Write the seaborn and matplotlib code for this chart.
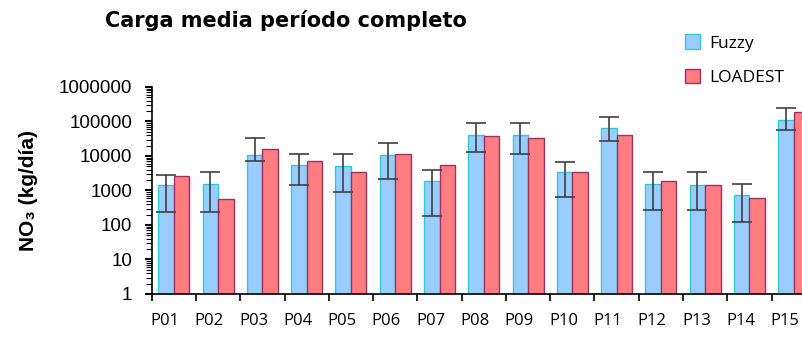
import numpy as np
import pandas as pd
import seaborn as sns
import matplotlib
matplotlib.use("Agg")
import matplotlib.pyplot as plt
from matplotlib.ticker import LogLocator, FuncFormatter, NullFormatter

# Mean NO3 load per station (kg/day), full period
stations = ["P01", "P02", "P03", "P04", "P05", "P06", "P07", "P08",
            "P09", "P10", "P11", "P12", "P13", "P14", "P15"]
fuzzy = [1450, 1550, 10500, 5600, 5100, 10500, 1900, 40600,
         40600, 3400, 65000, 1550, 1450, 730, 108000]
loadest = [2650, 570, 15600, 7300, 3400, 11200, 5600, 37300,
           34000, 3400, 40600, 1900, 1450, 600, 191000]
# Fuzzy error bar limits (lower / upper)
fuzzy_low = [233, 233, 7300, 1410, 920, 2200, 186, 13300,
             11200, 660, 26700, 277, 277, 120, 56800]
fuzzy_high = [2800, 3380, 33000, 11200, 11200, 24300, 4000, 90600,
              90600, 6700, 138000, 3370, 3370, 1540, 246000]

series = ["Fuzzy", "LOADEST"]
fills = {"Fuzzy": "#99CCFF", "LOADEST": "#FF7C80"}
edges = {"Fuzzy": "#33CCCC", "LOADEST": "#993366"}

df = pd.DataFrame({
    "station": stations * 2,
    "serie": ["Fuzzy"] * len(stations) + ["LOADEST"] * len(stations),
    "carga": fuzzy + loadest,
})

sns.set_theme(style="white")
plt.rcParams["font.family"] = ["Liberation Sans", "DejaVu Sans"]
plt.rcParams["text.color"] = "black"
plt.rcParams["axes.labelcolor"] = "black"
plt.rcParams["xtick.color"] = "black"
plt.rcParams["ytick.color"] = "black"

fig = plt.figure(figsize=(8.03, 3.43), dpi=100)
ax = fig.add_axes([0.189, 0.1429, 0.827, 0.6035])

sns.barplot(data=df, x="station", y="carga", hue="serie", order=stations,
            hue_order=series, palette=fills, width=0.7, errorbar=None,
            saturation=1, ax=ax, legend=False)
ax.set_yscale("log")

for cont, name in zip(ax.containers, series):
    for bar in cont:
        bar.set_edgecolor(edges[name])
        bar.set_linewidth(1.0)

# Error bars on the Fuzzy series
fz = ax.containers[0]
xs = [b.get_x() + b.get_width() / 2 for b in fz]
vals = np.array(fuzzy, dtype=float)
yerr = np.vstack([vals - np.array(fuzzy_low), np.array(fuzzy_high) - vals])
ax.errorbar(xs, vals, yerr=yerr, fmt="none", ecolor="#404040",
            elinewidth=1.2, capsize=7.5, capthick=1.2, zorder=5)

ax.set_xlim(-0.5, len(stations) - 0.5)
ax.set_ylim(1, 1e6)
ax.yaxis.set_major_locator(LogLocator(base=10, numticks=10))
ax.yaxis.set_minor_locator(LogLocator(base=10, subs=np.arange(2, 10), numticks=20))
ax.yaxis.set_major_formatter(FuncFormatter(lambda v, p: f"{int(round(v))}"))
ax.yaxis.set_minor_formatter(NullFormatter())

# Tick marks at category boundaries, labels set slightly left of centre
ax.set_xticks(np.arange(len(stations) + 1) - 0.5, minor=False)
ax.set_xticklabels([])
ax.set_xticks(np.arange(len(stations)) - 0.2, minor=True)
ax.set_xticklabels(stations, minor=True, family=["Open Sans", "DejaVu Sans"],
                   fontsize=12)
ax.tick_params(axis="x", which="major", direction="out", length=5,
               width=1.2, color="black", bottom=True)
ax.tick_params(axis="x", which="minor", length=0, pad=14)
ax.tick_params(axis="y", which="major", direction="out", length=5,
               width=1.5, color="black", left=True, labelsize=13.5, pad=9)
ax.tick_params(axis="y", which="minor", direction="out", length=4,
               width=0.8, color="black", left=True)

for s in ["top", "right"]:
    ax.spines[s].set_visible(False)
for s in ["left", "bottom"]:
    ax.spines[s].set_color("black")
    ax.spines[s].set_linewidth(1.2)

ax.set_xlabel("")
ax.set_ylabel("NO\u2083 (kg/día)", fontsize=15, fontweight="bold", labelpad=15)

fig.text(0.356, 0.94, "Carga media período completo", ha="center", va="center",
         fontsize=15, fontweight="bold", family=["DejaVu Sans"])

handles = [plt.Rectangle((0, 0), 1, 1, facecolor=fills[s], edgecolor=edges[s],
                         linewidth=1.0) for s in series]
fig.legend(handles, series, loc="upper left", bbox_to_anchor=(0.833, 0.945),
           frameon=False, handlelength=0.9, handleheight=0.9,
           labelspacing=1.0, handletextpad=0.5,
           prop={"family": ["Open Sans", "DejaVu Sans"], "size": 12.5})

fig.savefig("out.png", dpi=100)
